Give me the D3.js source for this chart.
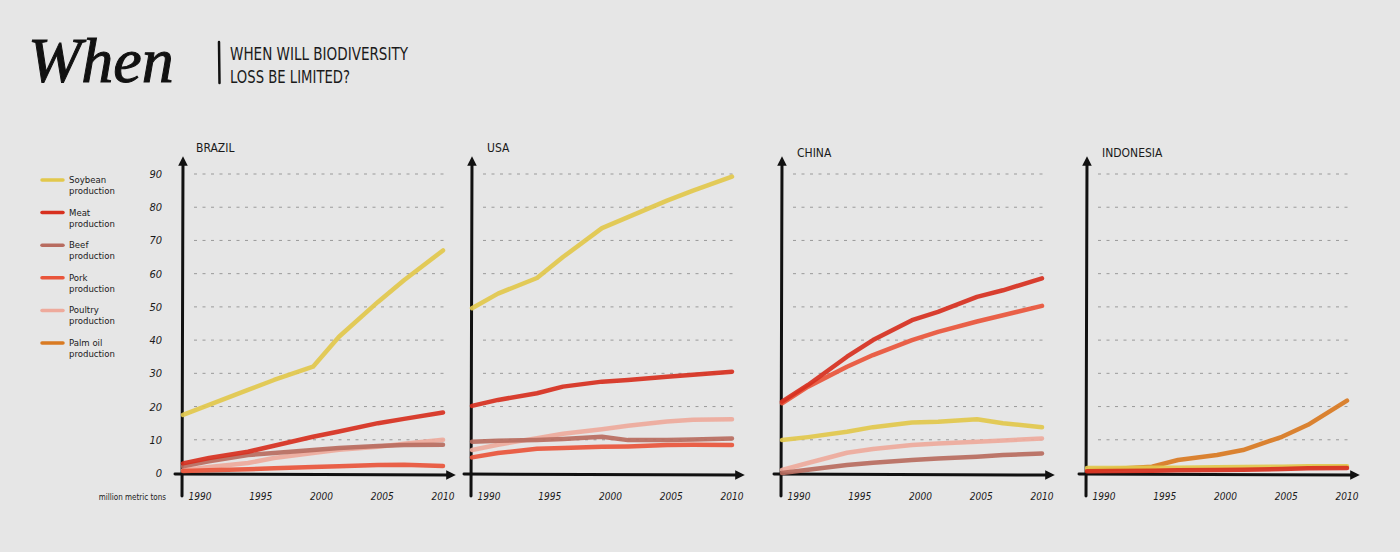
<!DOCTYPE html>
<html>
<head>
<meta charset="utf-8">
<script src="https://cdn.jsdelivr.net/npm/d3@7"></script>
<style>
	body { margin: 0; background: #e6e6e6; }
	svg { display: block; }
	.hand { font-family: "Liberation Sans Narrow", "DejaVu Sans Condensed", "DejaVu Sans", sans-serif; fill: #1a1a1a; }
</style>
</head>
<body>
<svg width="1400" height="552"></svg>
<script>
var years = [1990, 1992, 1995, 1997, 2000, 2002, 2005, 2007, 2010];
var yearTicks = [1990, 1995, 2000, 2005, 2010];
var valueTicks = [0, 10, 20, 30, 40, 50, 60, 70, 80, 90];
var countries = ["BRAZIL", "USA", "CHINA", "INDONESIA"];

var seriesNames = ["Soybean", "Meat", "Beef", "Pork", "Poultry", "Palm oil"];
var seriesColors = ["#e2c84c", "#d7301f", "#b86c60", "#e9553b", "#eeaa9c", "#d97a22"];

// million metric tons
var brazilSoy = [17.5, 20.5, 25, 28, 32, 41, 51.5, 58, 67];
var brazilMeat = [2.9, 4.5, 6.4, 8.2, 10.9, 12.5, 15, 16.3, 18.2];
var brazilBeef = [2.0, 3.5, 5.4, 6.0, 6.9, 7.5, 8.1, 8.4, 8.5];
var brazilPork = [0.6, 0.8, 1.1, 1.4, 1.8, 2.0, 2.4, 2.5, 2.1];
var brazilPoultry = [0.8, 1.8, 3, 4.5, 6, 7, 7.9, 8.8, 10];

var usaSoy = [49.6, 54, 58.7, 65, 73.7, 77, 82, 85, 89.2];
var usaMeat = [20.2, 22, 24, 26, 27.5, 28, 29, 29.6, 30.5];
var usaBeef = [9.4, 9.7, 9.9, 10.2, 10.9, 9.9, 9.9, 10.1, 10.4];
var usaPork = [4.7, 6.0, 7.3, 7.5, 7.9, 8.0, 8.4, 8.5, 8.4];
var usaPoultry = [6.9, 8.5, 10.5, 11.8, 13.2, 14.2, 15.5, 16, 16.2];

var chinaSoy = [9.9, 10.8, 12.4, 13.8, 15.2, 15.4, 16.2, 15, 13.8];
var chinaMeat = [21.5, 26.5, 35, 40, 46, 48.5, 53, 55, 58.6];
var chinaBeef = [0, 1, 2.4, 3.1, 3.9, 4.4, 4.9, 5.4, 5.9];
var chinaPork = [21, 26, 32, 35.5, 40, 42.5, 45.6, 47.5, 50.3];
var chinaPoultry = [0.9, 3, 6.1, 7.2, 8.4, 8.9, 9.4, 9.8, 10.4];

var indonesiaSoy = [1.5, 1.5, 1.6, 1.6, 1.7, 1.8, 1.9, 2.0, 2.0];
var indonesiaMeat = [0.5, 0.6, 0.7, 0.8, 0.9, 1.0, 1.2, 1.4, 1.5];
var indonesiaPalm = [0.9, 1.2, 1.9, 3.9, 5.4, 6.9, 10.9, 14.5, 21.8];

// series index -> values, drawn in this order (bottom first)
var panelData = [
	[[4, brazilPoultry], [2, brazilBeef], [3, brazilPork], [1, brazilMeat], [0, brazilSoy]],
	[[4, usaPoultry], [2, usaBeef], [3, usaPork], [1, usaMeat], [0, usaSoy]],
	[[4, chinaPoultry], [2, chinaBeef], [0, chinaSoy], [3, chinaPork], [1, chinaMeat]],
	[[5, indonesiaPalm], [0, indonesiaSoy], [1, indonesiaMeat]]
];

var svg = d3.select("svg");
var panelLeft = [183, 472, 782, 1087];
var panelWidth = 260;
var plotTop = 174, plotBottom = 473;

var y = d3.scaleLinear().domain([0, 90]).range([plotBottom, plotTop]);

var defs = svg.append("defs");
defs.append("marker")
	.attr("id", "arrow")
	.attr("viewBox", "0 0 10 10")
	.attr("refX", 5).attr("refY", 5)
	.attr("markerWidth", 3.2).attr("markerHeight", 3.2)
	.attr("orient", "auto")
	.append("path")
	.attr("d", "M0,0 L10,5 L0,10 Z")
	.attr("fill", "#111");

// title
svg.append("text")
	.attr("x", 28).attr("y", 82)
	.style("font-family", "'Liberation Serif', 'DejaVu Serif', serif")
	.style("font-style", "italic")
	.style("font-size", "64px")
	.attr("fill", "#111")
	.attr("stroke", "#111")
	.attr("stroke-width", 1)
	.text("When");

svg.append("line")
	.attr("x1", 219).attr("x2", 219.5)
	.attr("y1", 42).attr("y2", 83)
	.attr("stroke", "#111").attr("stroke-width", 2.5)
	.attr("stroke-linecap", "round");

svg.append("text").attr("class", "hand")
	.attr("x", 230).attr("y", 60)
	.attr("textLength", 178).attr("lengthAdjust", "spacingAndGlyphs")
	.style("font-size", "18px")
	.text("WHEN WILL BIODIVERSITY");
svg.append("text").attr("class", "hand")
	.attr("x", 230).attr("y", 83)
	.attr("textLength", 120).attr("lengthAdjust", "spacingAndGlyphs")
	.style("font-size", "18px")
	.text("LOSS BE LIMITED?");

// legend
var legend = svg.append("g");
seriesNames.forEach(function(name, i) {
	var ly = 180 + i * 32.6;
	legend.append("line")
		.attr("x1", 42).attr("x2", 63)
		.attr("y1", ly).attr("y2", ly)
		.attr("stroke", seriesColors[i])
		.attr("stroke-width", 3.5)
		.attr("stroke-linecap", "round");
	legend.append("text").attr("class", "hand")
		.attr("x", 69).attr("y", ly + 3)
		.style("font-size", "9.5px")
		.text(name);
	legend.append("text").attr("class", "hand")
		.attr("x", 69).attr("y", ly + 14)
		.style("font-size", "9.5px")
		.text("production");
});

// y tick labels (first panel only)
svg.selectAll(".ytick")
	.data(valueTicks)
	.enter().append("text")
	.attr("class", "hand ytick")
	.attr("x", 162)
	.attr("y", function(d) { return y(d) + 4; })
	.attr("text-anchor", "end")
	.style("font-size", "11px")
	.style("font-style", "italic")
	.text(function(d) { return d; });

svg.append("text").attr("class", "hand")
	.attr("x", 166).attr("y", 500)
	.attr("text-anchor", "end")
	.style("font-size", "8px")
	.text("million metric tons");

var line = d3.line().curve(d3.curveLinear);

countries.forEach(function(country, p) {
	var x0 = panelLeft[p];
	var x = d3.scaleLinear().domain([1990, 2010]).range([x0, x0 + panelWidth]);
	var xLabel = d3.scaleLinear().domain([1990, 2010]).range([x0 + 17, x0 + panelWidth]);
	var g = svg.append("g");

	// dashed grid
	g.selectAll(".grid")
		.data(valueTicks.slice(1))
		.enter().append("line")
		.attr("x1", x0 + 11).attr("x2", x0 + panelWidth + 5)
		.attr("y1", function(d) { return y(d); })
		.attr("y2", function(d) { return y(d); })
		.attr("stroke", "#9a9a9a")
		.attr("stroke-width", 1)
		.attr("stroke-dasharray", "3,5.5");

	// axes
	g.append("line")
		.attr("x1", x0 - 8).attr("x2", x0 + panelWidth + 8)
		.attr("y1", plotBottom + 1).attr("y2", plotBottom + 2)
		.attr("stroke", "#111").attr("stroke-width", 3)
		.attr("stroke-linecap", "round")
		.attr("marker-end", "url(#arrow)");
	g.append("line")
		.attr("x1", x0 - 1).attr("x2", x0)
		.attr("y1", plotBottom + 23).attr("y2", plotTop - 13)
		.attr("stroke", "#111").attr("stroke-width", 3)
		.attr("stroke-linecap", "round")
		.attr("marker-end", "url(#arrow)");

	g.append("text").attr("class", "hand")
		.attr("x", x0 + (p == 0 ? 13 : 15))
		.attr("y", p < 2 ? 152 : 157)
		.style("font-size", "12px")
		.text(country);

	g.selectAll(".xtick")
		.data(yearTicks)
		.enter().append("text")
		.attr("class", "hand")
		.attr("x", function(d) { return xLabel(d); })
		.attr("y", 500)
		.attr("text-anchor", "middle")
		.style("font-size", "10px")
		.style("font-style", "italic")
		.text(function(d) { return d; });

	panelData[p].forEach(function(s) {
		var pts = years.map(function(yr, i) { return [x(yr), y(s[1][i])]; });
		g.append("path")
			.attr("d", line(pts))
			.attr("fill", "none")
			.attr("stroke", seriesColors[s[0]])
			.attr("stroke-width", 4.5)
			.attr("stroke-linecap", "round")
			.attr("stroke-linejoin", "round")
			.attr("opacity", 0.92);
	});
});
</script>
</body>
</html>
